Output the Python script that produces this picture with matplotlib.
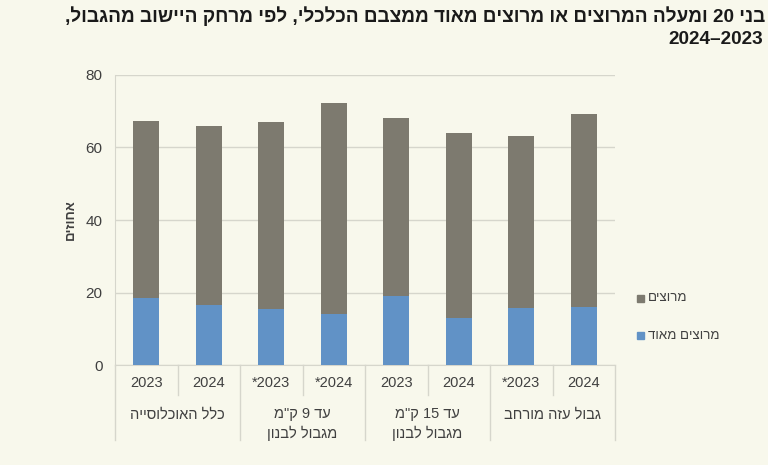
import re
import matplotlib
matplotlib.use("Agg")
import matplotlib.pyplot as plt
from matplotlib.patches import Rectangle

plt.rcParams['font.family'] = ['Liberation Sans', 'DejaVu Sans']


def rtl(s):
    # matplotlib has no bidi support: flip Hebrew, keep digit runs readable
    r = s[::-1]
    return re.sub(r'[0-9]+', lambda m: m.group(0)[::-1], r)


# data (left to right as drawn)
years = ['2023', '2024', '2023*', '2024*', '2023', '2024', '2023*', '2024']
groups = ['כלל האוכלוסייה', 'עד 9 ק"מ\nמגבול לבנון', 'עד 15 ק"מ\nמגבול לבנון', 'גבול עזה מורחב']
very_satisfied = [18.5, 16.6, 15.4, 14.2, 19.1, 12.9, 15.6, 15.9]
total_satisfied = [67.3, 65.9, 67.0, 72.2, 68.2, 64.0, 63.3, 69.3]
satisfied = [t - v for t, v in zip(total_satisfied, very_satisfied)]

legend_labels = ['מרוצים', 'מרוצים מאוד']
title_lines = ['בני 20 ומעלה המרוצים או מרוצים מאוד ממצבם הכלכלי, לפי מרחק היישוב מהגבול,',
               '2023–2024']
y_label = 'אחוזים'

bg = '#f8f8ec'
blue = '#6192c6'
grey = '#7d7a6f'
line_col = '#d6d6cc'
txt = '#404040'

fig = plt.figure(figsize=(7.68, 4.65), dpi=100, facecolor=bg)
ax = fig.add_axes([115 / 768, 100 / 465, 500 / 768, 290 / 465], facecolor=bg)

x = list(range(len(years)))
ax.bar(x, very_satisfied, width=0.42, color=blue, zorder=3)
ax.bar(x, satisfied, width=0.42, bottom=very_satisfied, color=grey, zorder=3)

ax.set_xlim(-0.5, len(years) - 0.5)
ax.set_ylim(0, 80)
ax.set_yticks([0, 20, 40, 60, 80])
ax.yaxis.grid(True, color=line_col, linewidth=1, zorder=0)
ax.tick_params(axis='y', length=0, pad=9, labelsize=11, labelcolor=txt)
ax.tick_params(axis='x', length=0, pad=8, labelsize=10.5, labelcolor=txt)
ax.set_xticks(x)
ax.set_xticklabels([rtl(y) for y in years])
for s in ['top', 'right']:
    ax.spines[s].set_visible(False)
for s in ['left', 'bottom']:
    ax.spines[s].set_color(line_col)

ax.set_ylabel(rtl(y_label), fontsize=9.5, fontweight='bold', color=txt, labelpad=6)

# multi-level category axis
tr = ax.get_xaxis_transform()
for i in range(len(years) + 1):
    pos = i - 0.5
    low = -0.259 if i % 2 == 0 else -0.103
    ax.plot([pos, pos], [0, low], color=line_col, linewidth=1, transform=tr, clip_on=False)
for g, name in enumerate(groups):
    lines = name.split('\n')
    for k, ln in enumerate(lines):
        ax.text(2 * g + 0.5, -0.17 - k * 0.066, rtl(ln), transform=tr, ha='center', va='center',
                fontsize=10.5, color=txt)

# legend
for k, (lab, col) in enumerate(zip(legend_labels, [grey, blue])):
    yy = 1 - (298 + k * 38) / 465
    fig.patches.append(Rectangle((637 / 768, yy - 3.5 / 465), 7 / 768, 7 / 465,
                                 transform=fig.transFigure, color=col))
    fig.text(648 / 768, yy, rtl(lab), ha='left', va='center', fontsize=9.5, color=txt)

# title
fig.text(0.997, 1 - 16 / 465, rtl(title_lines[0]), ha='right', va='center',
         fontsize=13.7, fontweight='bold', color='#1a1a1a')
fig.text(0.994, 1 - 39 / 465, rtl(title_lines[1]), ha='right', va='center',
         fontsize=13.7, fontweight='bold', color='#1a1a1a')

fig.savefig('out.png', dpi=100, facecolor=bg)
